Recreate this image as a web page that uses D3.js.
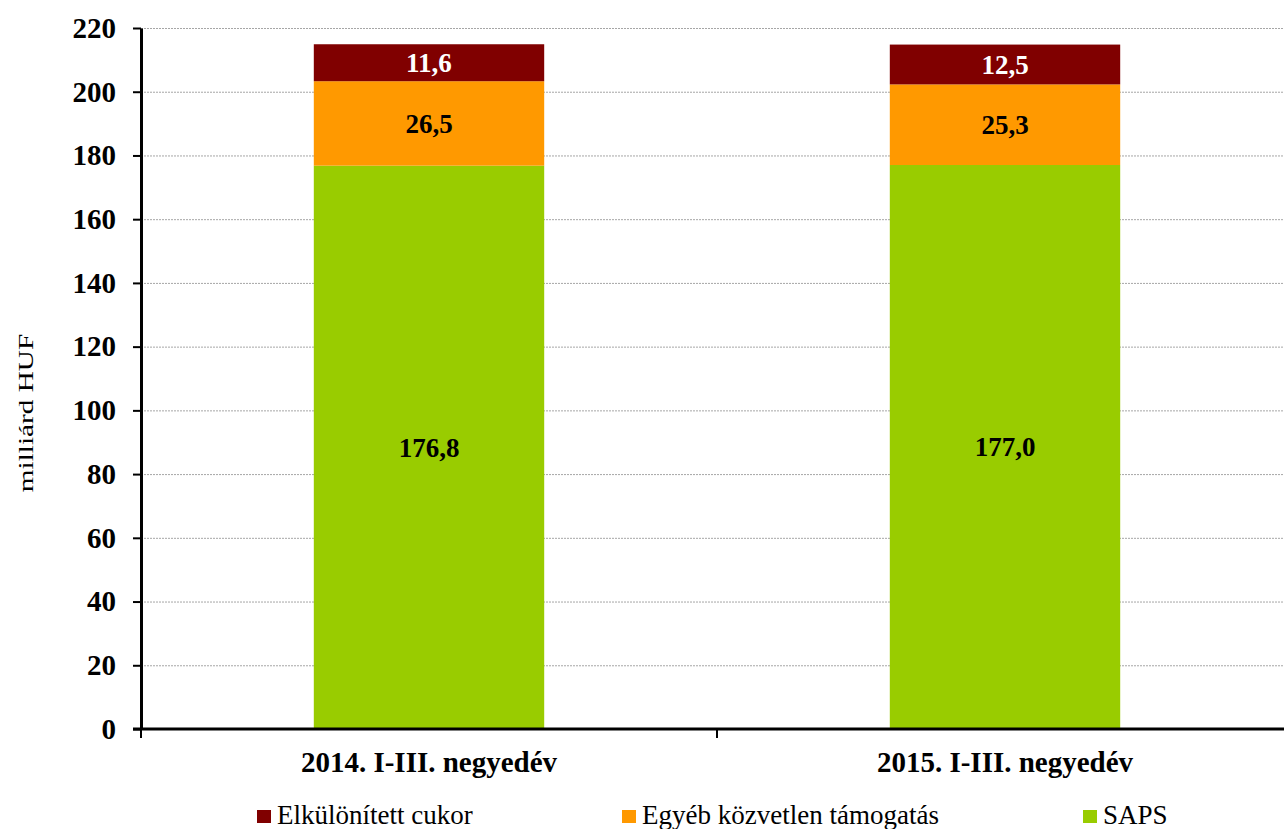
<!DOCTYPE html>
<html>
<head>
<meta charset="utf-8">
<script src="https://cdn.jsdelivr.net/npm/d3@7"></script>
<style>
  body { margin: 0; background: #fff; }
  text { font-family: "Liberation Serif", "Times New Roman", serif; }
</style>
</head>
<body>
<div id="chart"></div>
<script>
// chart data
const categories = ["2014. I-III. negyedév", "2015. I-III. negyedév"];
const seriesNames = ["SAPS", "Egyéb közvetlen támogatás", "Elkülönített cukor"];
const saps = [176.8, 177.0];
const egyeb = [26.5, 25.3];
const cukor = [11.6, 12.5];
const yTicks = [0, 20, 40, 60, 80, 100, 120, 140, 160, 180, 200, 220];
const legendOrder = ["Elkülönített cukor", "Egyéb közvetlen támogatás", "SAPS"];

const w = 1284, h = 829;
const marginTop = 28, marginBottom = 100, marginLeft = 141;

const colors = {
    "SAPS": "#99cc00",
    "Egyéb közvetlen támogatás": "#ff9900",
    "Elkülönített cukor": "#800000"
};
const labelColors = {
    "SAPS": "#000",
    "Egyéb közvetlen támogatás": "#000",
    "Elkülönített cukor": "#fff"
};

const rows = categories.map((c, i) => ({
    cat: c,
    "SAPS": saps[i],
    "Egyéb közvetlen támogatás": egyeb[i],
    "Elkülönített cukor": cukor[i]
}));

const series = d3.stack().keys(seriesNames)(rows);

const svg = d3.select("#chart").append("svg")
    .attr("width", w)
    .attr("height", h);

const x = d3.scaleBand()
    .domain(categories)
    .range([marginLeft, marginLeft + 1152])
    .paddingInner(0.6)
    .paddingOuter(0.3);

const y = d3.scaleLinear()
    .domain([0, 220])
    .range([h - marginBottom, marginTop]);

// grid lines
svg.append("g")
    .selectAll("line")
    .data(yTicks.filter(d => d > 0))
    .join("line")
    .attr("x1", marginLeft)
    .attr("x2", w)
    .attr("y1", d => y(d) + 0.5)
    .attr("y2", d => y(d) + 0.5)
    .attr("stroke", "#a6a6a6")
    .attr("stroke-width", 1)
    .attr("stroke-dasharray", "2,1");

// bars
svg.append("g")
    .selectAll("g")
    .data(series)
    .join("g")
    .attr("fill", d => colors[d.key])
    .selectAll("rect")
    .data(d => d)
    .join("rect")
    .attr("x", d => x(d.data.cat))
    .attr("width", x.bandwidth())
    .attr("y", d => y(d[1]))
    .attr("height", d => y(d[0]) - y(d[1]));

// value labels
svg.append("g")
    .selectAll("g")
    .data(series)
    .join("g")
    .attr("fill", d => labelColors[d.key])
    .selectAll("text")
    .data(d => d)
    .join("text")
    .attr("x", d => x(d.data.cat) + x.bandwidth() / 2)
    .attr("y", d => (y(d[0]) + y(d[1])) / 2)
    .attr("dy", "0.35em")
    .attr("text-anchor", "middle")
    .style("font-size", "27px")
    .style("font-weight", "bold")
    .text(d => d3.format(".1f")(d[1] - d[0]).replace(".", ","));

// y axis
svg.append("g")
    .attr("transform", `translate(${marginLeft},0)`)
    .call(d3.axisLeft(y).tickValues(yTicks).tickSize(8).tickPadding(17).tickSizeOuter(0))
    .call(g => g.select(".domain").attr("stroke", "#000").attr("stroke-width", 3))
    .call(g => g.selectAll(".tick line").attr("stroke-width", 2))
    .call(g => g.selectAll(".tick text")
        .attr("fill", "#000")
        .style("font-family", "'Liberation Serif', serif")
        .style("font-size", "29px")
        .style("font-weight", "bold"));

// x axis
const xAxis = svg.append("g")
    .attr("transform", `translate(0,${h - marginBottom})`);
xAxis.append("line")
    .attr("x1", marginLeft - 8)
    .attr("x2", w)
    .attr("stroke", "#000")
    .attr("stroke-width", 3);
xAxis.selectAll(".sep")
    .data([marginLeft, marginLeft + 576])
    .join("line")
    .attr("x1", d => d).attr("x2", d => d)
    .attr("y1", 0).attr("y2", 9)
    .attr("stroke", "#000")
    .attr("stroke-width", 2);
xAxis.selectAll(".lbl")
    .data(categories)
    .join("text")
    .attr("x", d => x(d) + x.bandwidth() / 2)
    .attr("y", 43)
    .attr("text-anchor", "middle")
    .style("font-size", "29px")
    .style("font-weight", "bold")
    .text(d => d);

// y label (stretched along its length like the original)
svg.append("text")
    .attr("transform", `translate(33,413) rotate(-90) scale(1.33,1)`)
    .attr("text-anchor", "middle")
    .style("font-size", "22px")
    .text("milliárd HUF");

// legend
const legendX = [257, 622, 1083];
const legend = svg.append("g")
    .selectAll("g")
    .data(legendOrder)
    .join("g")
    .attr("transform", (d, i) => `translate(${legendX[i]},810)`);
legend.append("rect")
    .attr("width", 14)
    .attr("height", 13)
    .attr("fill", d => colors[d]);
legend.append("text")
    .attr("x", 20)
    .attr("y", 14)
    .style("font-size", "27px")
    .text(d => d);
</script>
</body>
</html>
